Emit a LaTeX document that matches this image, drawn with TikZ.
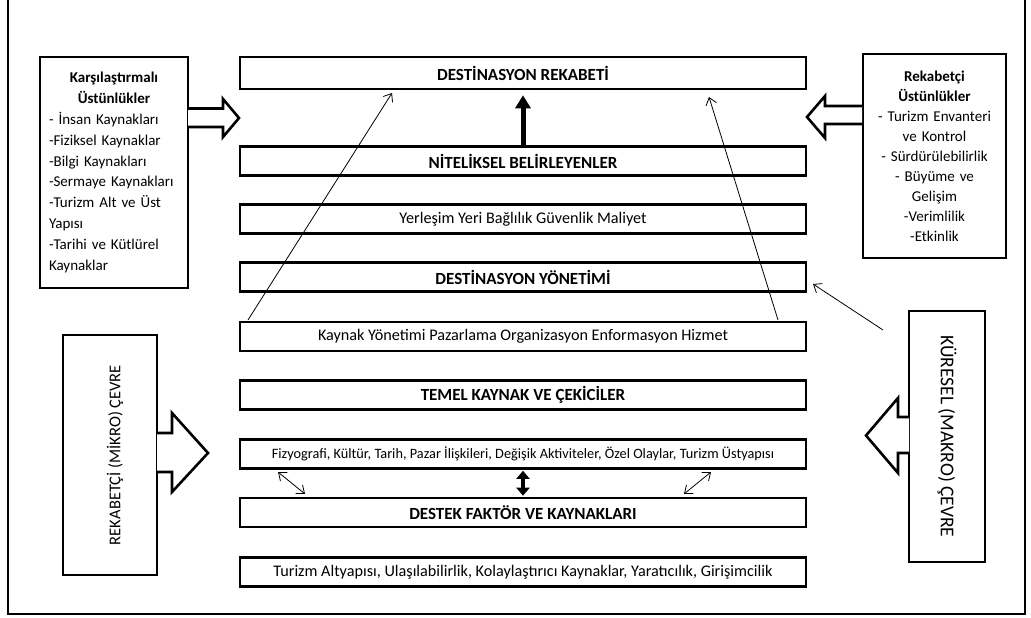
\documentclass[tikz,border=0pt]{standalone}
\usepackage{fontspec}
\setmainfont{Carlito}
\usetikzlibrary{arrows.meta}
\begin{document}
\begin{tikzpicture}[x=1pt,y=-1pt,
  cbox/.style={draw, line width=2.6pt, minimum width=566pt, minimum height=29pt, inner sep=0pt},
  sbox/.style={draw, line width=2.6pt, inner ysep=0pt},
  bigb/.style={font=\fontsize{17}{19}\selectfont\bfseries},
  regt/.style={font=\fontsize{16.2}{18}\selectfont},
  kayt/.style={font=\fontsize{16.2}{18}\selectfont},
  smallt/.style={font=\fontsize{14.3}{16}\selectfont},
  sidet/.style={font=\fontsize{15}{20.8}\selectfont},
  hollow/.style={draw, line width=2.6pt, line join=miter, fill=white},
  thinarr/.style={line width=0.8pt, -{Straight Barb[length=7pt,width=11pt]}},
  dblarr/.style={line width=0.8pt, {Straight Barb[length=7pt,width=11pt]}-{Straight Barb[length=7pt,width=11pt]}}
]
\useasboundingbox (0,0) rectangle (1031,618);
\draw[line width=2pt] (8,-10) -- (8,614) -- (1025,614) -- (1025,-10);

% centre column
\node[cbox, minimum height=32pt, bigb] (dr) at (523,73) {DESTİNASYON REKABETİ};
\node[cbox, bigb] (nb) at (523,161) {NİTELİKSEL BELİRLEYENLER};
\node[cbox, regt] (yy) at (523,219) {Yerleşim Yeri Bağlılık Güvenlik Maliyet};
\node[cbox, bigb] (dy) at (523,277) {DESTİNASYON YÖNETİMİ};
\node[cbox, kayt] (ky) at (523,336.5) {Kaynak Yönetimi Pazarlama Organizasyon Enformasyon Hizmet};
\node[cbox, bigb] (tk) at (523,395) {TEMEL KAYNAK VE ÇEKİCİLER};
\node[cbox, smallt] (fz) at (523,454) {Fizyografi, Kültür, Tarih, Pazar İlişkileri, Değişik Aktiviteler, Özel Olaylar, Turizm Üstyapısı};
\node[cbox, bigb] (df) at (523,512.5) {DESTEK FAKTÖR VE KAYNAKLARI};
\node[cbox, regt] (ta) at (523,572) {Turizm Altyapısı, Ulaşılabilirlik, Kolaylaştırıcı Kaynaklar, Yaratıcılık, Girişimcilik};

% side boxes
\node[sbox, sidet, minimum width=148pt, minimum height=231pt, inner xsep=9pt, text width=130pt, align=left] (lb) at (114,172.5)
 {\makebox[\linewidth][c]{\textbf{Karşılaştırmalı}}\\
  \makebox[\linewidth][c]{\textbf{Üstünlükler}}\\
  - İnsan Kaynakları\\
  -Fiziksel Kaynaklar\\
  -Bilgi Kaynakları\\
  -Sermaye Kaynakları\\
  -Turizm Alt ve Üst\\
  Yapısı\\
  -Tarihi ve Kütlürel\\
  Kaynaklar};
\node[sbox, sidet, minimum width=143pt, minimum height=204pt, inner xsep=5pt, text width=133pt, align=center, font=\fontsize{15}{20}\selectfont] (rb) at (934.5,156)
 {\textbf{Rekabetçi}\\
  \textbf{Üstünlükler}\\
  - Turizm Envanteri\\
  ve Kontrol\\
  - Sürdürülebilirlik\\
  - Büyüme ve\\
  Gelişim\\
  -Verimlilik\\
  -Etkinlik};
\node[sbox, rotate=90, minimum width=240pt, minimum height=94pt] (mk) at (110,455) {};
\node[rotate=90, font=\fontsize{16.5}{20}\selectfont] (mkt) at ([xshift=5pt]mk.center) {REKABETÇİ (MİKRO) ÇEVRE};
\node[sbox, rotate=-90, minimum width=251pt, minimum height=76pt, font=\fontsize{19.5}{22}\selectfont] (gk) at (947,436.5) {KÜRESEL (MAKRO) ÇEVRE};

% hollow block arrows
\path[hollow] (188,108.5) -- (223,108.5) -- (223,99) -- (239,118) -- (223,137) -- (223,127) -- (188,127);
\path[hollow] (862,106) -- (825,106) -- (825,96) -- (807,117) -- (825,138) -- (825,124) -- (862,124);
\path[hollow] (157,433) -- (172,433) -- (172,413) -- (208,453) -- (172,492) -- (172,472) -- (157,472);
\path[hollow] (909,417) -- (898,417) -- (898,398) -- (866,435.5) -- (898,473) -- (898,453) -- (909,453);

% thick arrows
\draw[line width=5pt, -{Triangle[length=13pt,width=15pt]}] (nb.north) -- ([yshift=-5pt]dr.south);
\draw[line width=4pt, {Triangle[length=8pt,width=13pt]}-{Triangle[length=8pt,width=13pt]}] ([yshift=-1pt]fz.south) -- ([yshift=1pt]df.north);

% thin arrows
\coordinate (a1s) at (248,320);
\coordinate (a1e) at (392,93);
\coordinate (a2s) at (778,320);
\coordinate (a2e) at (709,97);
\coordinate (a3s) at (883,330);
\coordinate (a3e) at (813,284);
\coordinate (d1a) at (278,472);
\coordinate (d1b) at (305,494);
\coordinate (d2a) at (711,472);
\coordinate (d2b) at (684,494);
\draw[thinarr] (a1s) -- (a1e);
\draw[thinarr] (a2s) -- (a2e);
\draw[thinarr] (a3s) -- (a3e);
\draw[dblarr] (d1a) -- (d1b);
\draw[dblarr] (d2a) -- (d2b);
\end{tikzpicture}
\end{document}
